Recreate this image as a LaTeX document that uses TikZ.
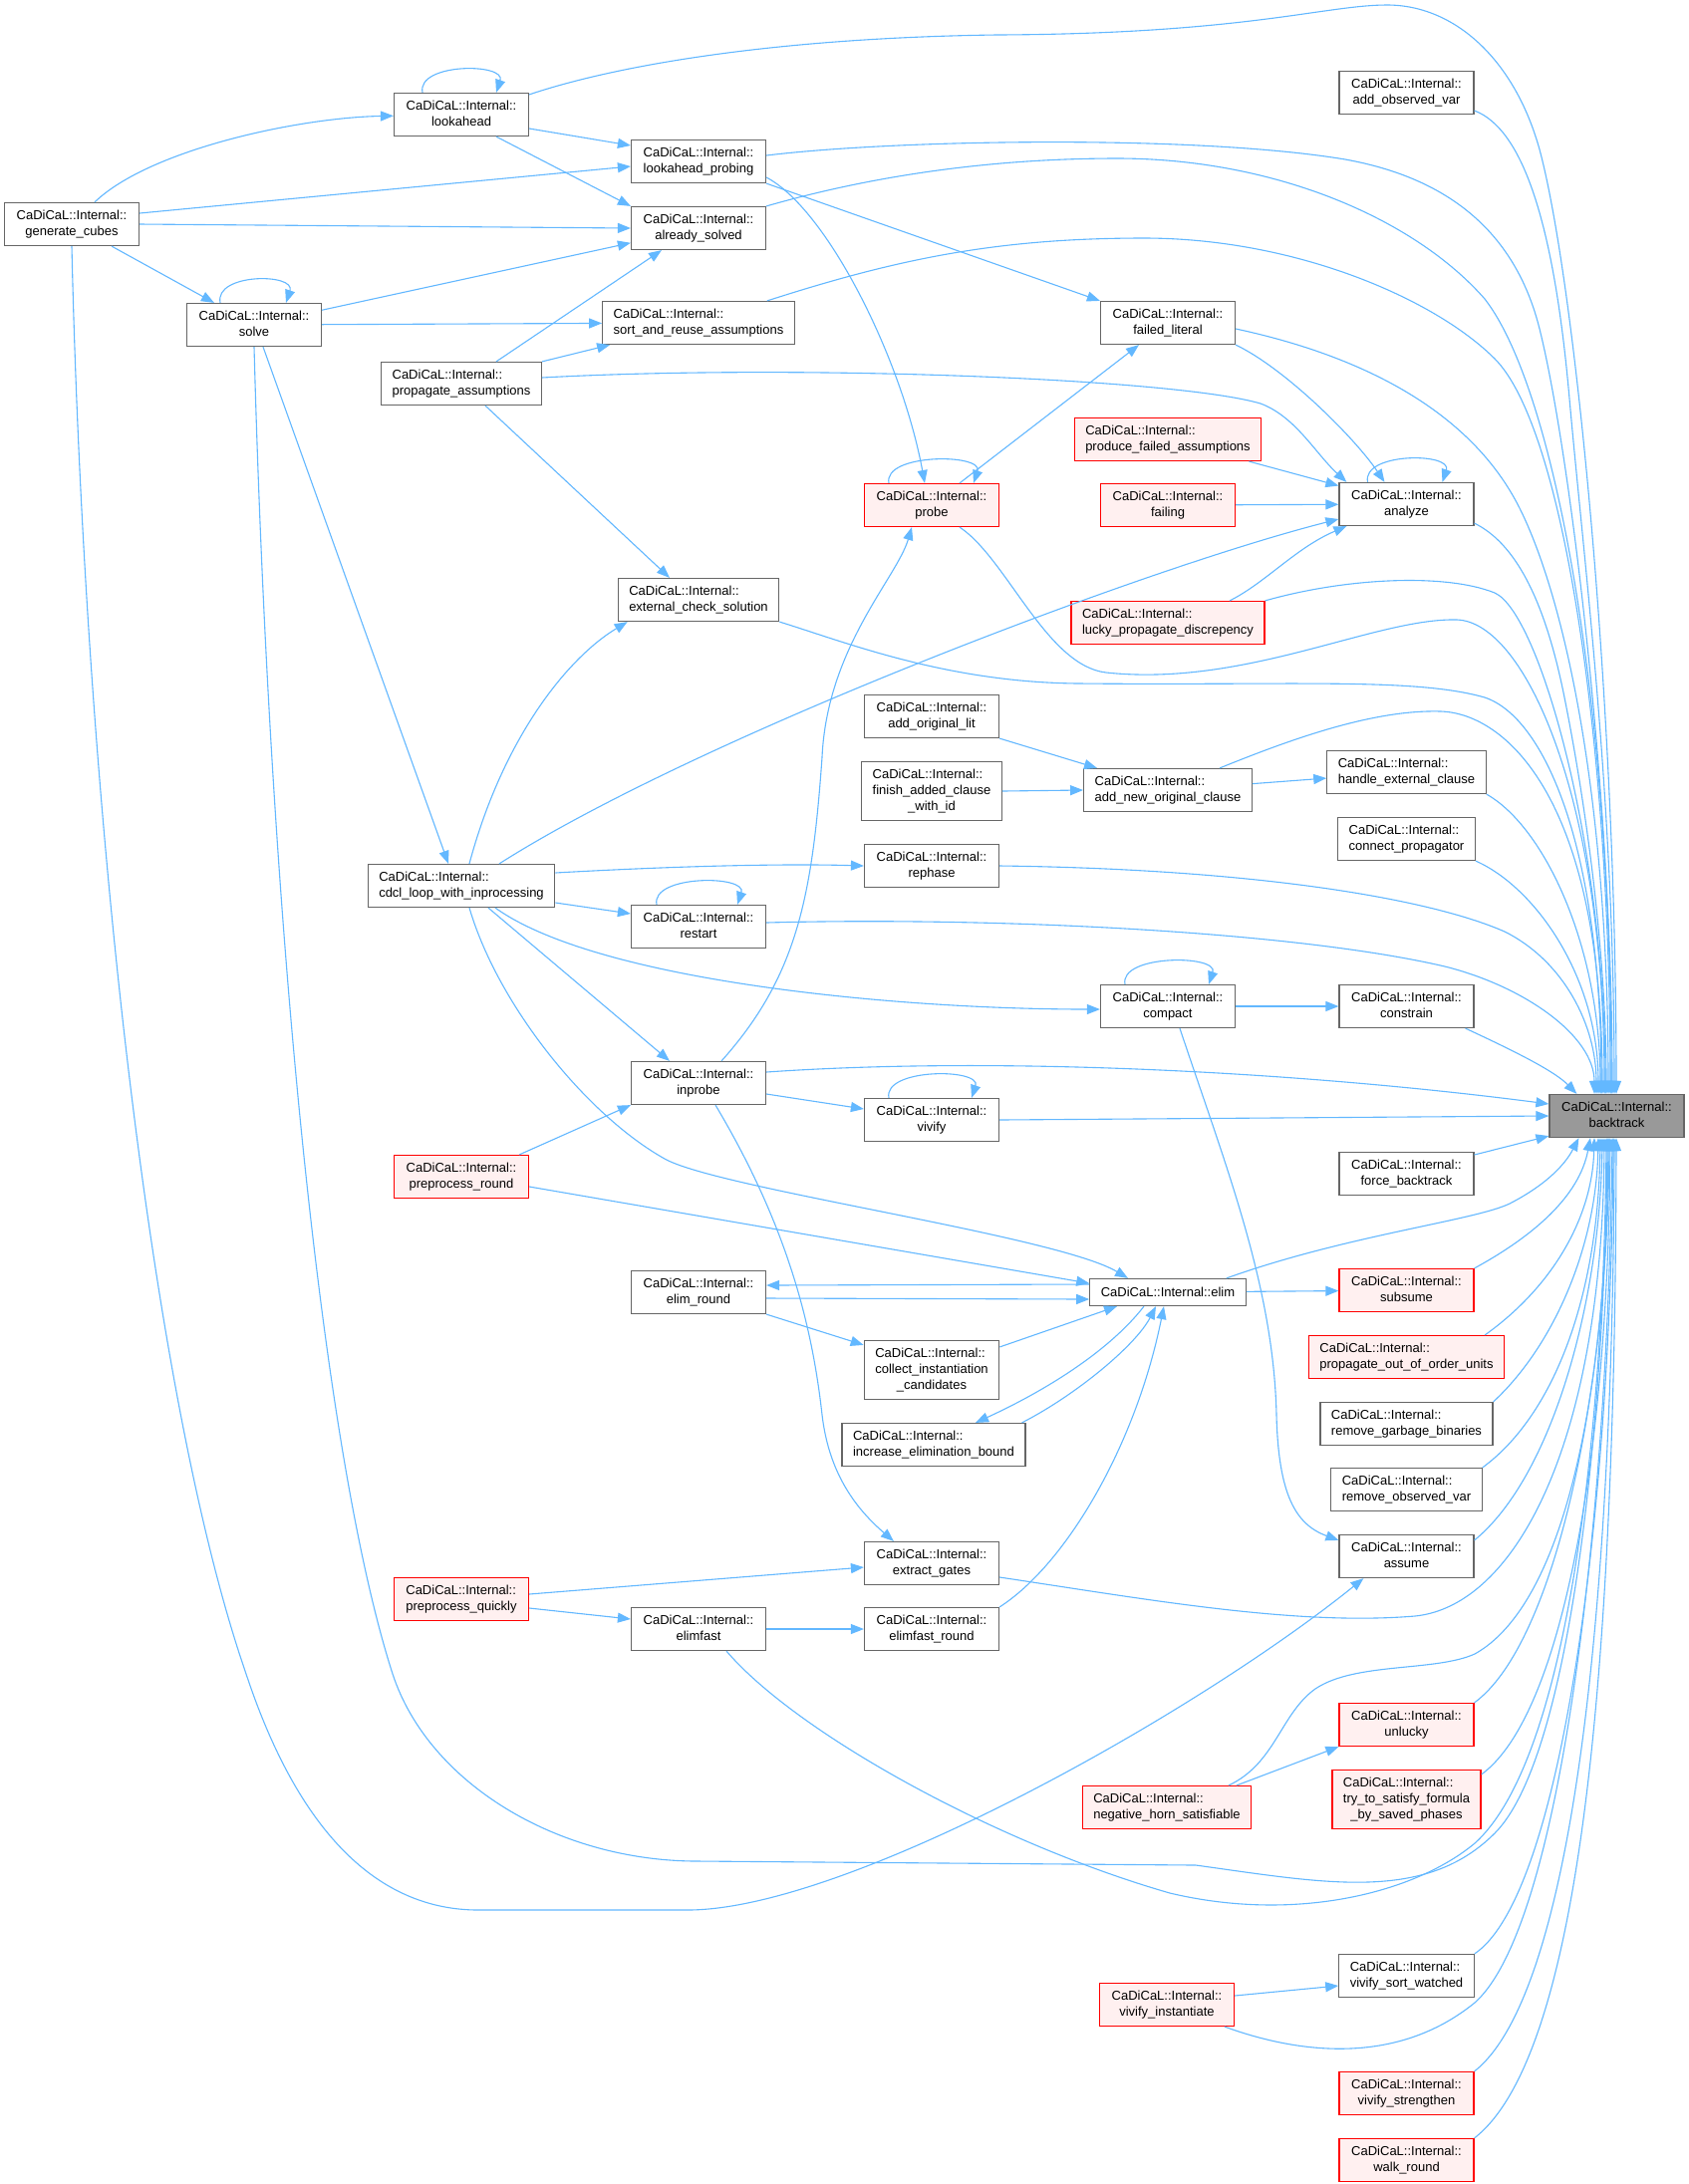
\documentclass[tikz,border=0pt]{standalone}
\usepackage{fontspec}
\setmainfont{Liberation Sans}
\usepackage{tikz}
\usetikzlibrary{arrows.meta,calc}

\definecolor{edgeblue}{HTML}{63B8FF}
\definecolor{boxgray}{HTML}{666666}
\definecolor{rootgray}{HTML}{999999}
\definecolor{truncfill}{HTML}{FFF0F0}

% two line label: namespace on top, function below
\newcommand{\fnname}[1]{\begin{tabular}{@{}c@{}}\multicolumn{1}{@{}l@{}}{CaDiCaL::Internal::}\\#1\end{tabular}}

\begin{document}
\begin{tikzpicture}[
            x = 0.5pt, y = -0.5pt, % pixel grid, y runs down
            fnbox/.style = {draw=boxgray, fill=white, line width=0.6pt,
                minimum width=67.5pt, minimum height=21.5pt,
                inner xsep=5.5pt, inner ysep=2.6pt,
                font=\fontsize{6.5}{8.1}\selectfont},
            fntrunc/.style = {fnbox, draw=red, fill=truncfill}, % truncated callers
            fnroot/.style = {fnbox, fill=rootgray},
            call/.style = {draw=edgeblue, line width=0.55pt,
                -{Triangle[length=6.5pt,width=5pt]}}
        ]

	\fill[white] (0,0) rectangle (1695,2192);
	\useasboundingbox (0,0) rectangle (1695,2192);

	% functions, column by column
	\node[fnbox] (gencubes) at (72,225) {\fnname{generate\_cubes}};
	\node[fnbox] (solve) at (255,326) {\fnname{solve}};

	\node[fnbox] (lookahead) at (463,115) {\fnname{lookahead}};
	\node[fnbox] (propassum) at (463,385) {\fnname{propagate\_assumptions}};
	\node[fnbox] (cdcl) at (463,889) {\fnname{cdcl\_loop\_with\_inprocessing}};
	\node[fntrunc] (preround) at (463,1181) {\fnname{preprocess\_round}};
	\node[fntrunc] (prequick) at (463,1605) {\fnname{preprocess\_quickly}};

	\node[fnbox] (lprobing) at (701,162) {\fnname{lookahead\_probing}};
	\node[fnbox] (solved) at (701,229) {\fnname{already\_solved}};
	\node[fnbox] (sortreuse) at (701,324) {\fnname{sort\_and\_reuse\_assumptions}};
	\node[fnbox] (extcheck) at (701,602) {\fnname{external\_check\_solution}};
	\node[fnbox] (restart) at (701,930) {\fnname{restart}};
	\node[fnbox] (inprobe) at (701,1087) {\fnname{inprobe}};
	\node[fnbox] (elimround) at (701,1297) {\fnname{elim\_round}};
	\node[fnbox] (elimfast) at (701,1635) {\fnname{elimfast}};

	\node[fntrunc] (probe) at (935,507) {\fnname{probe}};
	\node[fnbox] (addlit) at (935,719) {\fnname{add\_original\_lit}};
	\node[fnbox] (finishadd) at (935,794) {\fnname{finish\_added\_clause\\\_with\_id}};
	\node[fnbox] (rephase) at (935,869) {\fnname{rephase}};
	\node[fnbox] (vivify) at (935,1124) {\fnname{vivify}};
	\node[fnbox] (collect) at (935,1375) {\fnname{collect\_instantiation\\\_candidates}};
	\node[fnbox] (increase) at (937,1450) {\fnname{increase\_elimination\_bound}};
	\node[fnbox] (extract) at (935,1569) {\fnname{extract\_gates}};
	\node[fnbox] (elimfastround) at (935,1635) {\fnname{elimfast\_round}};

	\node[fnbox] (failedlit) at (1172,324) {\fnname{failed\_literal}};
	\node[fntrunc] (producefailed) at (1172,441) {\fnname{produce\_failed\_assumptions}};
	\node[fntrunc] (failing) at (1172,507) {\fnname{failing}};
	\node[fntrunc] (lucky) at (1172,625) {\fnname{lucky\_propagate\_discrepency}};
	\node[fnbox] (addnew) at (1172,793) {\fnname{add\_new\_original\_clause}};
	\node[fnbox] (compact) at (1172,1010) {\fnname{compact}};
	\node[fnbox, minimum height=13.5pt] (elim) at (1172,1297) {CaDiCaL::Internal::elim};
	\node[fntrunc] (neghorn) at (1171,1814) {\fnname{negative\_horn\_satisfiable}};
	\node[fntrunc] (vivinst) at (1171,2012) {\fnname{vivify\_instantiate}};

	\node[fnbox] (addobs) at (1411.5,93) {\fnname{add\_observed\_var}};
	\node[fnbox] (analyze) at (1411.5,506) {\fnname{analyze}};
	\node[fnbox] (handleext) at (1411.5,775) {\fnname{handle\_external\_clause}};
	\node[fnbox] (connect) at (1411.5,842) {\fnname{connect\_propagator}};
	\node[fnbox] (constrain) at (1411.5,1010) {\fnname{constrain}};
	\node[fnbox] (forcebt) at (1411.5,1178) {\fnname{force\_backtrack}};
	\node[fntrunc] (subsume) at (1411.5,1295) {\fnname{subsume}};
	\node[fntrunc] (outoforder) at (1411.5,1362) {\fnname{propagate\_out\_of\_order\_units}};
	\node[fnbox] (garbage) at (1411.5,1429) {\fnname{remove\_garbage\_binaries}};
	\node[fnbox] (removeobs) at (1411.5,1495) {\fnname{remove\_observed\_var}};
	\node[fnbox] (assume) at (1411.5,1562) {\fnname{assume}};
	\node[fntrunc] (unlucky) at (1411.5,1731) {\fnname{unlucky}};
	\node[fntrunc] (trysat) at (1411.5,1806) {\fnname{try\_to\_satisfy\_formula\\\_by\_saved\_phases}};
	\node[fnbox] (vivsort) at (1411.5,1983) {\fnname{vivify\_sort\_watched}};
	\node[fntrunc] (vivstr) at (1411.5,2101) {\fnname{vivify\_strengthen}};
	\node[fntrunc] (walk) at (1411.5,2168) {\fnname{walk\_round}};

	\node[fnroot] (backtrack) at (1622.5,1120) {\fnname{backtrack}};

	% generate_cubes
	\draw[call] (gencubes) .. controls (150,150) and (300,118) .. (lookahead);
	\draw[call] ($(gencubes.east)+(0,-11)$) -- ($(lprobing.west)+(0,5)$);
	\draw[call] (gencubes.east) -- (solved.west);
	\draw[call] (gencubes) -- (solve);
	\draw[call] (gencubes.south) .. controls (85,800) and (150,1400) .. (247,1680) .. controls (300,1840) and (380,1917) .. (480,1917) -- (690,1917) .. controls (850,1917) and (1200,1720) .. ($(assume.south west)+(25,0)$);

	% solve
	\draw[call] ($(solve.north)+(-34,0)$) .. controls +(-6,-30) and +(10,-30) .. ($(solve.north)+(32,0)$);
	\draw[call] (solve) -- (solved);
	\draw[call] (solve) -- (sortreuse);
	\draw[call] ($(solve.south)+(9,0)$) -- ($(cdcl.north)+(-13,0)$);
	\draw[call] (solve.south) .. controls (270,900) and (320,1450) .. (394,1680) .. controls (430,1790) and (560,1868) .. (700,1868) -- (1200,1872) .. controls (1330,1890) and (1430,1910) .. (1500,1840) .. controls (1580,1760) and (1611,1400) .. ($(backtrack.south)+(-9.5,0)$);

	% lookahead
	\draw[call] ($(lookahead.north)+(-39,0)$) .. controls +(-6,-30) and +(10,-30) .. ($(lookahead.north)+(35,0)$);
	\draw[call] ($(lookahead.east)+(0,14)$) -- ($(lprobing.west)+(0,-16)$);
	\draw[call] ($(lookahead.south)+(35,0)$) -- (solved.north west);
	\draw[call] ($(lookahead.north east)+(0,2)$) .. controls (620,65) and (780,38) .. (1000,35) .. controls (1250,34) and (1330,5) .. (1392,5) .. controls (1460,5) and (1520,60) .. (1545,150) .. controls (1580,280) and (1622,700) .. ($(backtrack.north)+(-0.5,0)$);

	% propagate_assumptions
	\draw[call] ($(propassum.north)+(35,0)$) -- ($(solved.south)+(-37,0)$);
	\draw[call] (propassum.north east) -- ($(sortreuse.south west)+(8,0)$);
	\draw[call] ($(propassum.east)+(0,-6)$) .. controls (800,365) and (1180,380) .. (1265,405) .. controls (1300,418) and (1320,455) .. ($(analyze.north west)+(8,0)$);
	\draw[call] ($(propassum.south)+(24,0)$) -- ($(extcheck.north)+(-29,0)$);

	% cdcl_loop_with_inprocessing
	\draw[call] ($(cdcl.north)+(8,0)$) .. controls (505,740) and (570,660) .. ($(extcheck.south west)+(10,0)$);
	\draw[call] ($(cdcl.north)+(38,0)$) .. controls (700,740) and (1150,570) .. ($(analyze.west)+(0,15)$);
	\draw[call] ($(cdcl.east)+(0,-13)$) .. controls (700,868) and (800,867) .. (rephase.west);
	\draw[call] ($(cdcl.east)+(0,17)$) -- ($(restart.west)+(0,-13)$);
	\draw[call] ($(cdcl.south)+(34,0)$) .. controls (600,985) and (900,1013) .. ($(compact.west)+(0,3)$);
	\draw[call] ($(cdcl.south)+(27,0)$) -- ($(inprobe.north)+(-29,0)$);
	\draw[call] ($(cdcl.south)+(8,0)$) .. controls (500,1010) and (590,1120) .. (667,1163) .. controls (720,1193) and (1060,1240) .. ($(elim.north)+(-40,0)$);

	% preprocessing
	\draw[call] ($(preround.north east)+(-10,0)$) -- (inprobe.south west);
	\draw[call] ($(preround.east)+(0,10)$) -- ($(elim.west)+(0,-9)$);
	\draw[call] ($(prequick.east)+(0,-5)$) -- ($(extract.west)+(0,4)$);
	\draw[call] ($(prequick.east)+(0,9)$) -- ($(elimfast.west)+(0,-10)$);

	% lookahead_probing, already_solved, sort_and_reuse_assumptions
	\draw[call] (lprobing.south east) -- (failedlit.north west);
	\draw[call] ($(lprobing.east)+(0,16)$) .. controls (830,210) and (905,360) .. ($(probe.north)+(-7,0)$);
	\draw[call] ($(lprobing.east)+(0,-6)$) .. controls (900,140) and (1200,135) .. (1350,160) .. controls (1450,178) and (1520,230) .. (1545,330) .. controls (1575,450) and (1618,800) .. ($(backtrack.north)+(-4.5,0)$);
	\draw[call] (solved.north east) .. controls (880,175) and (1000,159) .. (1121,159) .. controls (1280,159) and (1420,220) .. (1490,300) .. controls (1560,390) and (1617,700) .. ($(backtrack.north)+(-5.5,0)$);
	\draw[call] ($(sortreuse.north east)+(-28,0)$) .. controls (900,260) and (1000,239) .. (1148,239) .. controls (1300,239) and (1440,300) .. (1500,360) .. controls (1570,430) and (1616,750) .. ($(backtrack.north)+(-6.5,0)$);

	% external_check_solution, restart, inprobe
	\draw[call] (extcheck.south east) .. controls (850,645) and (950,685) .. (1083,686) .. controls (1300,688) and (1420,680) .. (1490,700) .. controls (1550,720) and (1607,850) .. ($(backtrack.north)+(-15.5,0)$);
	\draw[call] ($(restart.north)+(-42,0)$) .. controls +(-6,-30) and +(10,-30) .. ($(restart.north)+(39,0)$);
	\draw[call] ($(restart.east)+(0,-4)$) .. controls (1000,920) and (1300,935) .. (1450,970) .. controls (1530,990) and (1600,1040) .. ($(backtrack.north)+(-22.5,0)$);
	\draw[call] ($(inprobe.north)+(23,0)$) .. controls (800,980) and (815,900) .. (825,760) .. controls (830,650) and (900,580) .. ($(probe.south)+(-20,0)$);
	\draw[call] ($(inprobe.east)+(0,11)$) -- ($(vivify.west)+(0,-11)$);
	\draw[call] ($(inprobe.south)+(17,0)$) .. controls (790,1230) and (815,1330) .. (825,1420) .. controls (832,1480) and (860,1515) .. ($(extract.north west)+(30,0)$);
	\draw[call] ($(inprobe.east)+(0,-11)$) .. controls (1000,1060) and (1300,1075) .. ($(backtrack.west)+(0,-12)$);

	% elim_round, elimfast
	\draw[call] ($(elimround.east)+(0,6)$) -- ($(elim.west)+(0,7)$);
	\draw[call] (elimround.south east) -- ($(collect.north west)+(0,5)$);
	\draw[call] (elimfast) -- (elimfastround);
	\draw[call] ($(elimfast.south)+(28,0)$) .. controls (800,1740) and (1000,1850) .. (1174,1900) .. controls (1300,1930) and (1420,1900) .. (1480,1850) .. controls (1580,1760) and (1610,1400) .. ($(backtrack.south)+(-10.5,0)$);

	% probe
	\draw[call] ($(probe.north)+(-43,0)$) .. controls +(-6,-30) and +(10,-30) .. ($(probe.north)+(42,0)$);
	\draw[call] ($(probe.north)+(28,0)$) -- ($(failedlit.south)+(-29,0)$);
	\draw[call] ($(probe.south)+(28,0)$) .. controls (1010,560) and (1050,668) .. (1110,675) .. controls (1250,690) and (1380,620) .. (1462,622) .. controls (1530,624) and (1610,800) .. ($(backtrack.north)+(-12.5,0)$);

	% clause adding, rephase, vivify
	\draw[call] (addlit.south east) -- ($(addnew.north west)+(14,0)$);
	\draw[call] (finishadd.east) -- (addnew.west);
	\draw[call] (rephase.east) .. controls (1250,872) and (1430,900) .. (1510,935) .. controls (1570,965) and (1602,1030) .. ($(backtrack.north)+(-20.5,0)$);
	\draw[call] ($(vivify.north)+(-43,0)$) .. controls +(-6,-30) and +(10,-30) .. ($(vivify.north)+(40,0)$);
	\draw[call] (vivify.east) -- (backtrack.west);

	% elimination helpers
	\draw[call] ($(collect.north east)+(0,7)$) -- ($(elim.south)+(-51,0)$);
	\draw[call] ($(increase.north east)+(-4,0)$) .. controls (1080,1400) and (1140,1350) .. ($(elim.south)+(-12,0)$);
	\draw[call] ($(extract.east)+(0,14)$) .. controls (1150,1605) and (1300,1632) .. (1420,1622) .. controls (1520,1612) and (1608,1450) .. ($(backtrack.south)+(-12.5,0)$);
	\draw[call] (elimfastround.north east) .. controls (1070,1570) and (1140,1450) .. ($(elim.south)+(-4,0)$);

	% failed_literal, analyze callers
	\draw[call] (failedlit.south east) .. controls (1290,370) and (1360,440) .. ($(analyze.north)+(-22,0)$);
	\draw[call] ($(failedlit.east)+(0,6)$) .. controls (1380,360) and (1480,420) .. (1525,510) .. controls (1570,600) and (1614,800) .. ($(backtrack.north)+(-8.5,0)$);
	\draw[call] (producefailed) -- (analyze);
	\draw[call] (failing) -- (analyze);
	\draw[call] ($(lucky.north)+(62,0)$) .. controls (1270,585) and (1300,550) .. ($(analyze.south west)+(8,0)$);
	\draw[call] (lucky.north east) .. controls (1350,580) and (1450,575) .. (1500,595) .. controls (1545,615) and (1611,850) .. ($(backtrack.north)+(-11.5,0)$);

	% add_new_original_clause, compact
	\draw[call] (addnew) -- (handleext);
	\draw[call] ($(addnew.north)+(52,0)$) .. controls (1300,740) and (1380,712) .. (1446,714) .. controls (1510,716) and (1608,800) .. ($(backtrack.north)+(-14.5,0)$);
	\draw[call] ($(compact.north)+(-43,0)$) .. controls +(-6,-30) and +(10,-30) .. ($(compact.north)+(41,0)$);
	\draw[call] (compact) -- (constrain);
	\draw[call] ($(compact.south)+(12,0)$) .. controls (1230,1170) and (1278,1290) .. (1281,1420) .. controls (1283,1500) and (1300,1530) .. ($(assume.north west)+(0,6)$);

	% elim
	\draw[call] ($(elim.west)+(0,-8)$) -- ($(elimround.east)+(0,-7)$);
	\draw[call] ($(elim.south)+(-24,0)$) .. controls (1110,1360) and (1040,1400) .. ($(increase.north)+(42,0)$);
	\draw[call] (elim) -- (subsume);
	\draw[call] ($(elim.north east)+(-20,0)$) .. controls (1350,1240) and (1480,1225) .. (1515,1208) .. controls (1550,1190) and (1570,1170) .. ($(backtrack.south west)+(30,0)$);

	% negative_horn_satisfiable, vivify_instantiate
	\draw[call] ($(neghorn.north)+(70,0)$) -- (unlucky.south west);
	\draw[call] ($(neghorn.north)+(62,0)$) .. controls (1280,1770) and (1285,1720) .. (1320,1695) .. controls (1360,1668) and (1440,1678) .. (1480,1660) .. controls (1570,1610) and (1612,1400) .. ($(backtrack.south)+(-8.5,0)$);
	\draw[call] ($(vivinst.east)+(0,-9)$) -- ($(vivsort.west)+(0,10)$);
	\draw[call] ($(vivinst.south)+(58,0)$) .. controls (1300,2060) and (1400,2075) .. (1480,2010) .. controls (1570,1930) and (1614,1500) .. ($(backtrack.south)+(-4.5,0)$);

	% direct callers of backtrack, from above
	\draw[call] ($(addobs.east)+(0,18)$) .. controls (1530,130) and (1560,230) .. (1575,400) .. controls (1590,570) and (1620,800) .. ($(backtrack.north)+(-2.5,0)$);
	\draw[call] ($(analyze.north)+(-39,0)$) .. controls +(-6,-30) and +(10,-30) .. ($(analyze.north)+(36,0)$);
	\draw[call] ($(analyze.south east)+(0,-3)$) .. controls (1520,545) and (1550,600) .. (1570,700) .. controls (1590,800) and (1612,950) .. ($(backtrack.north)+(-10.5,0)$);
	\draw[call] (handleext.south east) .. controls (1550,830) and (1606,950) .. ($(backtrack.north)+(-16.5,0)$);
	\draw[call] (connect.south east) .. controls (1540,890) and (1604,980) .. ($(backtrack.north)+(-18.5,0)$);
	\draw[call] ($(constrain.south east)+(-9,0)$) .. controls (1520,1055) and (1560,1075) .. ($(backtrack.north west)+(28,0)$);
	\draw[call] ($(forcebt.east)+(0,-19)$) -- ($(backtrack.south west)+(0,-2)$);

	% direct callers of backtrack, from below
	\draw[call] (subsume.north east) .. controls (1540,1240) and (1585,1200) .. ($(backtrack.south)+(-26.5,0)$);
	\draw[call] ($(outoforder.north east)+(-20,0)$) .. controls (1560,1290) and (1598,1220) .. ($(backtrack.south)+(-22.5,0)$);
	\draw[call] (garbage.north east) .. controls (1560,1350) and (1602,1250) .. ($(backtrack.south)+(-18.5,0)$);
	\draw[call] (removeobs.north east) .. controls (1560,1420) and (1604,1300) .. ($(backtrack.south)+(-16.5,0)$);
	\draw[call] ($(assume.north east)+(0,6)$) .. controls (1560,1480) and (1606,1300) .. ($(backtrack.south)+(-14.5,0)$);
	\draw[call] (unlucky.north east) .. controls (1560,1650) and (1613,1400) .. ($(backtrack.south)+(-7.5,0)$);
	\draw[call] ($(trysat.north east)+(0,5)$) .. controls (1570,1720) and (1614,1450) .. ($(backtrack.south)+(-6.5,0)$);
	\draw[call] (vivsort.north east) .. controls (1570,1900) and (1617,1500) .. ($(backtrack.south)+(-3.5,0)$);
	\draw[call] (vivstr.north east) .. controls (1580,2000) and (1619,1600) .. ($(backtrack.south)+(-2.5,0)$);
	\draw[call] (walk.north east) .. controls (1590,2060) and (1621,1650) .. ($(backtrack.south)+(-0.5,0)$);

\end{tikzpicture}
\end{document}
